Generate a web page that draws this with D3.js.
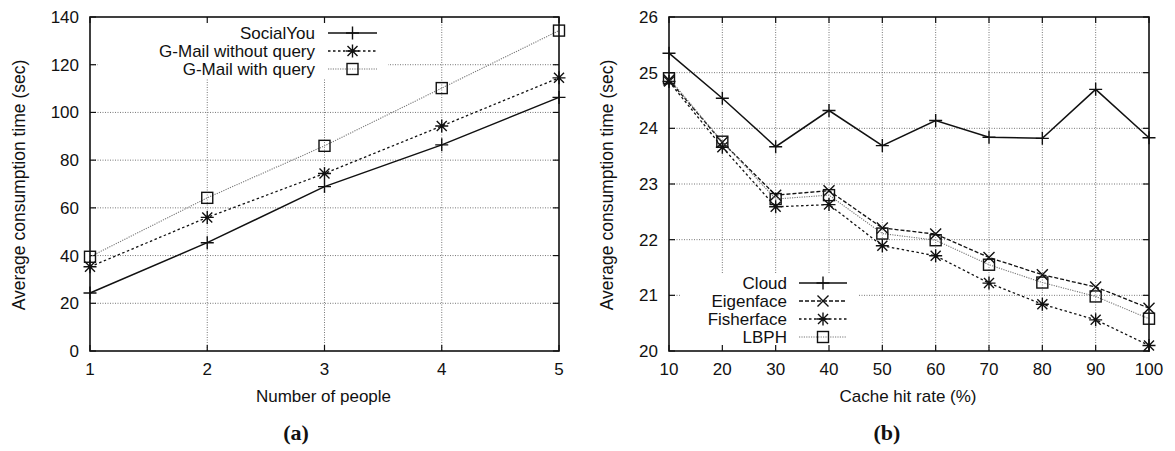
<!doctype html>
<html>
<head>
<meta charset="UTF-8" />
<script src="https://d3js.org/d3.v7.min.js"></script>
<style>
  body { margin: 0; background: #fff; }
  svg text { font-family: "Liberation Sans", Arial, sans-serif; fill: #111; }
</style>
</head>
<body>
<svg id="chart" width="1175" height="451"></svg>
<script>
(function () {
  "use strict";

  // ---- data: panel (a)
  const people = [1, 2, 3, 4, 5];
  const socialYou = [24.3, 45.4, 68.9, 86.4, 106.3];
  const gmailNoQuery = [35.3, 56.0, 74.4, 94.3, 114.5];
  const gmailQuery = [39.5, 64.2, 86.0, 110.2, 134.3];
  const ticksA_y = [0, 20, 40, 60, 80, 100, 120, 140];

  // ---- data: panel (b)
  const hitRate = [10, 20, 30, 40, 50, 60, 70, 80, 90, 100];
  const cloud = [25.35, 24.54, 23.67, 24.32, 23.69, 24.14, 23.84, 23.82, 24.70, 23.83];
  const eigenface = [24.87, 23.75, 22.80, 22.88, 22.21, 22.10, 21.68, 21.37, 21.15, 20.77];
  const fisherface = [24.84, 23.66, 22.59, 22.63, 21.89, 21.71, 21.22, 20.84, 20.56, 20.10];
  const lbph = [24.90, 23.76, 22.73, 22.80, 22.11, 21.99, 21.55, 21.23, 20.98, 20.58];
  const ticksB_y = [20, 21, 22, 23, 24, 25, 26];

  const svg = d3.select("#chart");
  const FS = 17;

  // marker shapes (gnuplot style)
  function marker(g, type, x, y) {
    const s = 6.5;
    let d = "";
    if (type === "plus") d = `M${x - s},${y}H${x + s}M${x},${y - s}V${y + s}`;
    if (type === "cross") d = `M${x - 5.5},${y - 5.5}L${x + 5.5},${y + 5.5}M${x - 5.5},${y + 5.5}L${x + 5.5},${y - 5.5}`;
    if (type === "star") d = `M${x - s},${y}H${x + s}M${x},${y - s}V${y + s}M${x - 5},${y - 5}L${x + 5},${y + 5}M${x - 5},${y + 5}L${x + 5},${y - 5}`;
    if (type === "box") {
      g.append("rect").attr("x", x - 5.5).attr("y", y - 5.5).attr("width", 11).attr("height", 11)
        .attr("fill", "none").attr("stroke", "#111").attr("stroke-width", 1.4);
      return;
    }
    g.append("path").attr("d", d).attr("fill", "none").attr("stroke", "#111").attr("stroke-width", 1.4);
  }

  function panel(opt) {
    const x = d3.scaleLinear().domain(opt.xDomain).range([opt.left, opt.right]);
    const y = d3.scaleLinear().domain(opt.yDomain).range([opt.bottom, opt.top]);
    const g = svg.append("g");

    // grid
    const grid = g.append("g").attr("stroke", "#777").attr("stroke-width", 1).attr("stroke-dasharray", "1,1.5");
    opt.xTicks.slice(1, -1).forEach(t => {
      grid.append("line").attr("x1", x(t)).attr("x2", x(t)).attr("y1", opt.top).attr("y2", opt.bottom);
    });
    opt.yTicks.slice(1, -1).forEach(t => {
      grid.append("line").attr("y1", y(t)).attr("y2", y(t)).attr("x1", opt.left).attr("x2", opt.right);
    });

    // legend background (covers grid like gnuplot's opaque key)
    g.append("rect").attr("x", opt.legend.box[0]).attr("y", opt.legend.box[1])
      .attr("width", opt.legend.box[2]).attr("height", opt.legend.box[3]).attr("fill", "#fff");

    // ticks (inward, mirrored)
    const tk = g.append("g").attr("stroke", "#111").attr("stroke-width", 1.2);
    opt.xTicks.forEach(t => {
      tk.append("line").attr("x1", x(t)).attr("x2", x(t)).attr("y1", opt.bottom).attr("y2", opt.bottom - 6);
      tk.append("line").attr("x1", x(t)).attr("x2", x(t)).attr("y1", opt.top).attr("y2", opt.top + 6);
      g.append("text").attr("x", x(t)).attr("y", opt.bottom + 24).attr("text-anchor", "middle")
        .attr("font-size", FS).text(t);
    });
    opt.yTicks.forEach(t => {
      tk.append("line").attr("y1", y(t)).attr("y2", y(t)).attr("x1", opt.left).attr("x2", opt.left + 6);
      tk.append("line").attr("y1", y(t)).attr("y2", y(t)).attr("x1", opt.right).attr("x2", opt.right - 6);
      g.append("text").attr("x", opt.left - 11).attr("y", y(t) + 6).attr("text-anchor", "end")
        .attr("font-size", FS).text(t);
    });

    // series
    const line = d3.line().x(d => x(d[0])).y(d => y(d[1]));
    opt.series.forEach(s => {
      const pts = opt.xs.map((v, i) => [v, s.values[i]]);
      g.append("path").attr("d", line(pts)).attr("fill", "none")
        .attr("stroke", s.color).attr("stroke-width", s.width)
        .attr("stroke-dasharray", s.dash);
      const mg = g.append("g");
      pts.forEach(p => marker(mg, s.marker, x(p[0]), y(p[1])));
    });

    // legend entries
    opt.series.forEach((s, i) => {
      const ly = opt.legend.y0 + i * opt.legend.dy;
      g.append("text").attr("x", opt.legend.textX).attr("y", ly + 6).attr("text-anchor", "end")
        .attr("font-size", FS).text(s.name);
      g.append("line").attr("x1", opt.legend.lineX[0]).attr("x2", opt.legend.lineX[1])
        .attr("y1", ly).attr("y2", ly).attr("stroke", s.color).attr("stroke-width", s.width)
        .attr("stroke-dasharray", s.dash);
      marker(g, s.marker, (opt.legend.lineX[0] + opt.legend.lineX[1]) / 2, ly);
    });

    // frame
    g.append("rect").attr("x", opt.left).attr("y", opt.top)
      .attr("width", opt.right - opt.left).attr("height", opt.bottom - opt.top)
      .attr("fill", "none").attr("stroke", "#111").attr("stroke-width", 1.6);

    // axis titles
    g.append("text").attr("x", (opt.left + opt.right) / 2 - 1).attr("y", opt.bottom + 51)
      .attr("text-anchor", "middle").attr("font-size", FS).text(opt.xTitle);
    g.append("text").attr("transform", `translate(${opt.yTitleX},${(opt.top + opt.bottom) / 2 + 1}) rotate(-90)`)
      .attr("text-anchor", "middle").attr("font-size", 17.5).text(opt.yTitle);

    // caption
    g.append("text").attr("x", opt.captionX).attr("y", 440).attr("text-anchor", "middle")
      .attr("font-size", 22).attr("font-weight", "bold")
      .style("font-family", "'Liberation Serif', 'DejaVu Serif', serif")
      .text("(" + opt.caption + ")");
  }

  panel({
    left: 90, right: 559, top: 17, bottom: 351,
    xDomain: [1, 5], yDomain: [0, 140],
    xTicks: people, yTicks: ticksA_y, xs: people,
    xTitle: "Number of people", yTitle: "Average consumption time (sec)", yTitleX: 25,
    caption: "a", captionX: 296,
    legend: { box: [98, 18, 290, 60], y0: 33, dy: 18, textX: 315, lineX: [328, 377] },
    series: [
      { name: "SocialYou", values: socialYou, marker: "plus", color: "#111", width: 1.5, dash: null },
      { name: "G-Mail without query", values: gmailNoQuery, marker: "star", color: "#111", width: 1.3, dash: "2.5,2.5" },
      { name: "G-Mail with query", values: gmailQuery, marker: "box", color: "#777", width: 1.1, dash: "1.2,1.2" }
    ]
  });

  panel({
    left: 669, right: 1149, top: 17, bottom: 351,
    xDomain: [10, 100], yDomain: [20, 26],
    xTicks: hitRate, yTicks: ticksB_y, xs: hitRate,
    xTitle: "Cache hit rate (%)", yTitle: "Average consumption time (sec)", yTitleX: 613,
    caption: "b", captionX: 887,
    legend: { box: [680, 273, 178, 77], y0: 283, dy: 18, textX: 787, lineX: [799, 847] },
    series: [
      { name: "Cloud", values: cloud, marker: "plus", color: "#111", width: 1.5, dash: null },
      { name: "Eigenface", values: eigenface, marker: "cross", color: "#111", width: 1.3, dash: "4,2" },
      { name: "Fisherface", values: fisherface, marker: "star", color: "#111", width: 1.3, dash: "2.5,2.5" },
      { name: "LBPH", values: lbph, marker: "box", color: "#777", width: 1.1, dash: "1.2,1.2" }
    ]
  });
})();
</script>
</body>
</html>
